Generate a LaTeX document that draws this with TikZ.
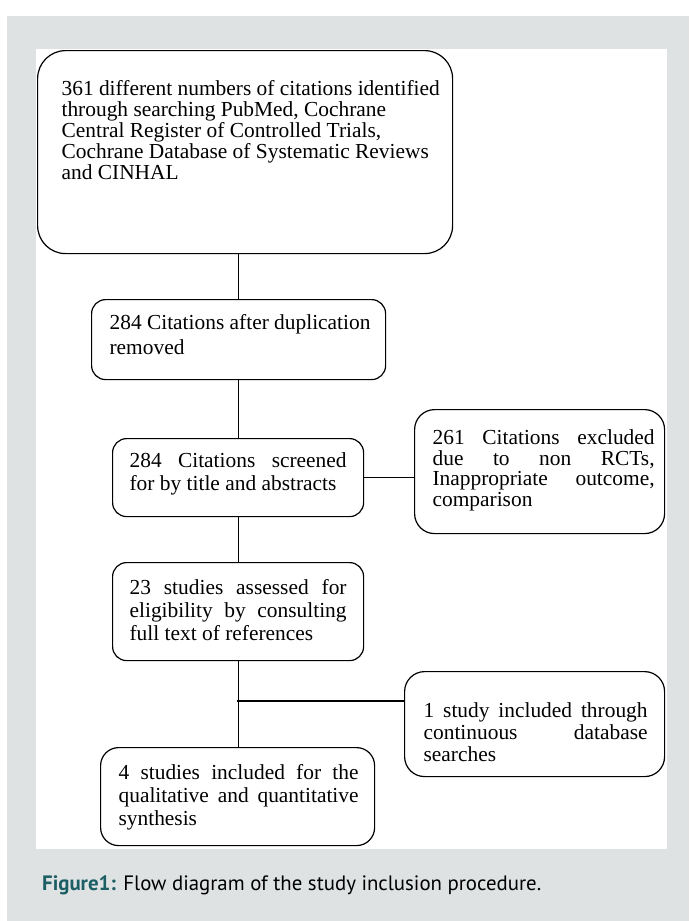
\documentclass[tikz,border=0pt]{standalone}
\usepackage{fontspec}
\setmainfont{Liberation Serif}
\newfontfamily\capfont{PT Sans}
\usetikzlibrary{calc}
\definecolor{bggrey}{RGB}{223,226,227}
\definecolor{capteal}{RGB}{27,94,100}
% justified line of given width
\newcommand{\jl}[2]{\makebox[#1][s]{#2}}
% box content: height, width, left inset, first-baseline offset, lines
\newcommand{\btext}[5]{\parbox[c][#1][t]{#2}{\leftskip=#3\relax\rightskip=0pt plus 1fil\relax\parindent=0pt\parfillskip=0pt plus 1fil\relax\rule{0pt}{#4}#5}}
\begin{document}
\begin{tikzpicture}[x=1pt,y=-1pt,
  flowbox/.style={draw, line width=1.2pt, inner sep=0pt, anchor=north west},
  conn/.style={line width=1.2pt},
  boxfont/.style={font=\fontsize{21.4}{#1}\selectfont}]
\useasboundingbox (0,0) rectangle (689,921);
\fill[white] (0,0) rectangle (689,921);
\fill[bggrey] (7,16) rectangle (689,921);
\fill[white] (36,49) rectangle (667,849);

\node[flowbox, boxfont=21, rounded corners=28pt] (A) at (37,50)
  {\btext{203pt}{415pt}{24pt}{45pt}{361 different numbers of citations identified\\
   through searching PubMed, Cochrane\\
   Central Register of Controlled Trials,\\
   Cochrane Database of Systematic Reviews\\
   and CINHAL}};

\node[flowbox, boxfont=24.5, rounded corners=14pt] (B) at (91,299)
  {\btext{80pt}{294pt}{18pt}{30pt}{284 Citations after duplication\\ removed}};

\node[flowbox, boxfont=23, rounded corners=14pt] (C) at (112,438)
  {\btext{78pt}{251pt}{17pt}{29pt}{\jl{217pt}{284 Citations screened}\\
   for by title and abstracts}};

\node[flowbox, boxfont=20.5, rounded corners=20pt] (D) at (414,409)
  {\btext{124pt}{250pt}{18pt}{35pt}{\jl{222pt}{261 Citations excluded}\\
   \jl{222pt}{due to non RCTs,}\\
   \jl{222pt}{Inappropriate outcome,}\\
   comparison}};

\node[flowbox, boxfont=23, rounded corners=14pt] (E) at (112,562)
  {\btext{98pt}{251pt}{17pt}{32pt}{\jl{217pt}{23 studies assessed for}\\
   \jl{217pt}{eligibility by consulting}\\
   full text of references}};

\node[flowbox, boxfont=22, rounded corners=20pt] (F) at (404,671)
  {\btext{105pt}{260pt}{19pt}{46pt}{\jl{224pt}{1 study included through}\\
   \jl{224pt}{continuous database}\\
   searches}};

\node[flowbox, boxfont=23, rounded corners=18pt] (G) at (100,747)
  {\btext{98pt}{274pt}{18pt}{32pt}{\jl{240pt}{4 studies included for the}\\
   \jl{240pt}{qualitative and quantitative}\\
   synthesis}};

\coordinate (j) at (237,701);
\draw[conn] (A.south -| C.south) -- (B.north -| C.south);
\draw[conn] (B.south -| C.south) -- (C.north);
\draw[conn] (C.south) -- (E.north);
\draw[conn] (E.south) -- (G.north -| E.south);
\draw[conn] (C.east) -- (C.east -| D.west);
\draw[conn] (j) -- (j -| F.west);

\node[anchor=base west, inner sep=0pt] (cap) at (42,890)
  {\resizebox{499pt}{!}{\capfont\fontsize{17.5}{20}\selectfont{\bfseries\color{capteal}Figure1:} Flow diagram of the study inclusion procedure.}};
\end{tikzpicture}
\end{document}
